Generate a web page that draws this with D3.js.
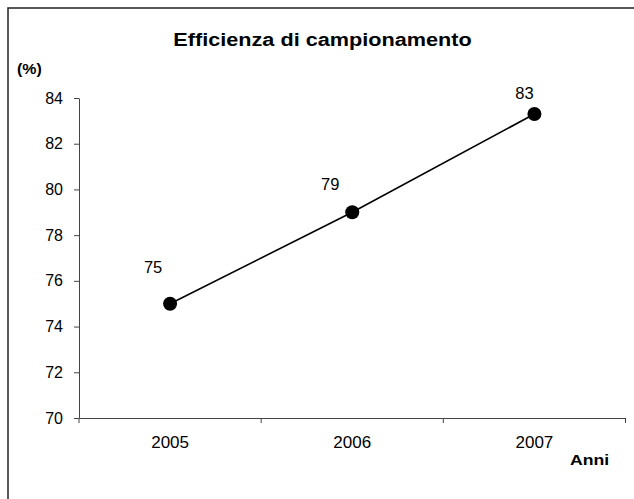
<!DOCTYPE html>
<html>
<head>
<meta charset="utf-8">
<script src="https://cdn.jsdelivr.net/npm/d3@7"></script>
<style>
    html, body { margin: 0; padding: 0; background: #fff; overflow: hidden; }
    svg { display: block; font-family: "Liberation Sans", Arial, sans-serif; }
</style>
</head>
<body>
<div id="chart"></div>
<script>
// --- data ---
const years = ['2005', '2006', '2007'];
const efficiency = [75, 79, 83.3];
const yTicks = [70, 72, 74, 76, 78, 80, 82, 84];

const chartTitle = 'Efficienza di campionamento';
const yLabel = '(%)';
const xLabel = 'Anni';

document.addEventListener('DOMContentLoaded', () => {
    const width = 634;
    const height = 499;
    const boldStretch = 1.14; // bold texts in the original look wider

    const svg = d3.select('#chart').append('svg')
        .attr('width', width)
        .attr('height', height);

    // outer frame (only top and left edges are in view)
    svg.append('rect')
        .attr('x', 8).attr('y', 8)
        .attr('width', width + 20).attr('height', height + 20)
        .attr('fill', 'none')
        .attr('stroke', '#222')
        .attr('stroke-width', 1.5);

    const plot = { left: 79, right: 625.5, top: 98, bottom: 418 };

    const x = d3.scaleBand()
        .domain(years)
        .range([plot.left, plot.right]);

    const y = d3.scaleLinear()
        .domain([70, 84])
        .range([plot.bottom, plot.top]);

    // y axis
    const yAxis = svg.append('g')
        .attr('transform', `translate(${plot.left},0)`)
        .call(d3.axisLeft(y).tickValues(yTicks).tickSize(5).tickPadding(11).tickSizeOuter(0));
    yAxis.select('.domain').attr('stroke', '#444');
    yAxis.selectAll('.tick line').attr('stroke', '#444');
    yAxis.selectAll('.tick text')
        .attr('fill', '#000')
        .style('font-size', '16px')
        .style('font-family', '"Liberation Sans", Arial, sans-serif');

    // x axis: labels at band centres, ticks on band edges
    const xAxis = svg.append('g')
        .attr('transform', `translate(0,${plot.bottom})`)
        .call(d3.axisBottom(x).tickSize(0).tickPadding(18).tickSizeOuter(0));
    xAxis.select('.domain').attr('stroke', '#444');
    xAxis.selectAll('.tick text')
        .attr('fill', '#000')
        .style('font-size', '17px')
        .style('font-family', '"Liberation Sans", Arial, sans-serif');

    const edges = years.map(d => x(d)).concat([x(years[years.length - 1]) + x.bandwidth()]);
    xAxis.selectAll('line.edge')
        .data(edges)
        .join('line')
        .attr('class', 'edge')
        .attr('x1', d => d).attr('x2', d => d)
        .attr('y1', 0).attr('y2', 5)
        .attr('stroke', '#444');

    // line + markers
    const points = years.map((yr, i) => ({ year: yr, value: efficiency[i] }));
    const line = d3.line()
        .x(d => x(d.year) + x.bandwidth() / 2)
        .y(d => y(d.value));

    svg.append('path')
        .datum(points)
        .attr('d', line)
        .attr('fill', 'none')
        .attr('stroke', '#000')
        .attr('stroke-width', 1.6);

    svg.selectAll('circle.pt')
        .data(points)
        .join('circle')
        .attr('class', 'pt')
        .attr('cx', d => x(d.year) + x.bandwidth() / 2)
        .attr('cy', d => y(d.value))
        .attr('r', 7)
        .attr('fill', '#000');

    // data labels, nudged like the original layout
    const labelNudge = [[-17, -31], [-22, -22], [-10, -15]];
    svg.selectAll('text.val')
        .data(points)
        .join('text')
        .attr('class', 'val')
        .attr('x', (d, i) => x(d.year) + x.bandwidth() / 2 + labelNudge[i][0])
        .attr('y', (d, i) => y(d.value) + labelNudge[i][1])
        .attr('text-anchor', 'middle')
        .style('font-size', '16.5px')
        .text(d => Math.round(d.value));

    // bold texts (stretched horizontally)
    function boldText(txt, px, py, size, anchor) {
        svg.append('text')
            .attr('transform', `translate(${px},${py}) scale(${boldStretch},1)`)
            .attr('text-anchor', anchor)
            .style('font-size', size + 'px')
            .style('font-weight', 'bold')
            .text(txt);
    }

    boldText(chartTitle, 322.5, 45.5, 19, 'middle');
    boldText(yLabel, 17, 74, 14, 'start');
    boldText(xLabel, 570, 465, 15.5, 'start');
});
</script>
</body>
</html>
